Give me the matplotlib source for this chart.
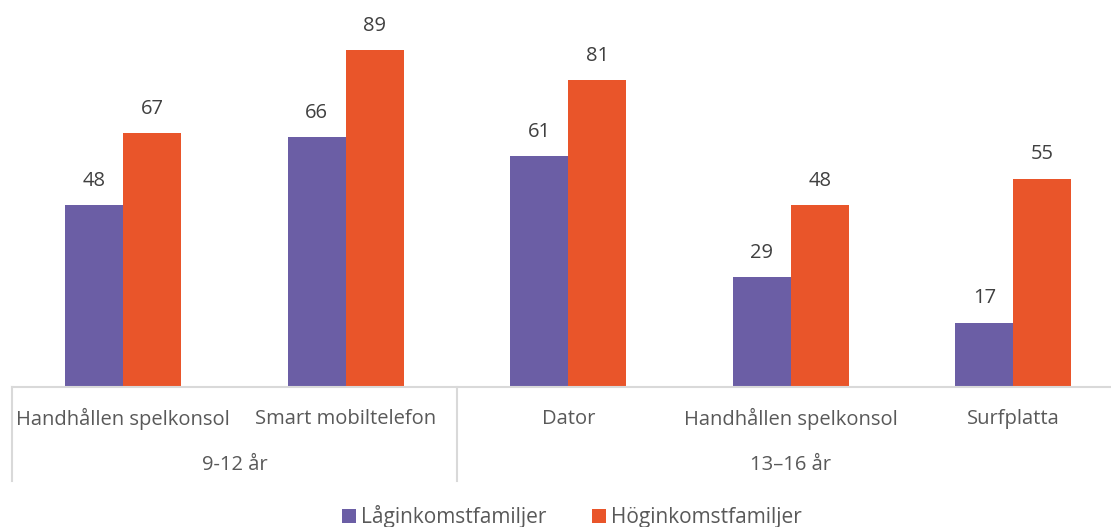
import matplotlib.pyplot as plt
import numpy as np

# Data
categories = ["Handhållen spelkonsol", "Smart mobiltelefon", "Dator",
              "Handhållen spelkonsol", "Surfplatta"]
groups = ["9-12 år", "13–16 år"]
group_sizes = [2, 3]
series_names = ["Låginkomstfamiljer", "Höginkomstfamiljer"]
low_income = [48, 66, 61, 29, 17]
high_income = [67, 89, 81, 48, 55]

purple = "#6B5EA5"
orange = "#E9552A"
grey_text = "#595959"
line_grey = "#D9D9D9"

plt.rcParams['font.family'] = ['Open Sans', 'DejaVu Sans']

fig = plt.figure(figsize=(11.11, 5.27), dpi=100)
W, H = 1111, 527
# axes placed in pixel terms: x from 12, category width ~222.5 px
ax = fig.add_axes([12 / W, (H - 387) / H, 1112.5 / W, 378.7 / H])

x = np.arange(len(categories))
bw = 0.26
b1 = ax.bar(x - bw / 2, low_income, bw, color=purple, label=series_names[0])
b2 = ax.bar(x + bw / 2, high_income, bw, color=orange, label=series_names[1])

for bars in (b1, b2):
    for rect in bars:
        ax.annotate(str(int(rect.get_height())),
                    (rect.get_x() + rect.get_width() / 2, rect.get_height()),
                    xytext=(0, 17.5), textcoords="offset points",
                    ha="center", va="center", fontsize=14.5, color="#404040")

ax.set_xlim(-0.5, len(categories) - 0.5)
ax.set_ylim(0, 100)
ax.set_yticks([])
ax.set_xticks([])
for s in ["top", "right", "left"]:
    ax.spines[s].set_visible(False)
ax.spines["bottom"].set_color(line_grey)
ax.spines["bottom"].set_linewidth(1.5)

# category labels
trans = ax.get_xaxis_transform()
for i, c in enumerate(categories):
    ax.text(i, -(419 - 387) / 378.7, c, transform=trans, ha="center", va="center",
            fontsize=14.5, color=grey_text)

# group labels and separators
start = 0
bounds = [-0.5]
for g, n in zip(groups, group_sizes):
    mid = start + (n - 1) / 2
    ax.text(mid, -(465 - 387) / 378.7, g, transform=trans, ha="center", va="center",
            fontsize=14.5, color=grey_text)
    start += n
    bounds.append(start - 0.5)
for b in bounds[:-1]:
    ax.plot([b, b], [0, -(481 - 387) / 378.7], transform=trans, color=line_grey,
            lw=1.5, clip_on=False)

fig.legend(handles=[b1, b2], labels=series_names, loc="center",
           bbox_to_anchor=(572 / W, 1 - 517 / H), ncol=2, frameon=False,
           fontsize=15, handlelength=0.65, handleheight=0.65, handletextpad=0.25,
           columnspacing=2.2, labelcolor=grey_text)

fig.savefig("out.png", dpi=100)
